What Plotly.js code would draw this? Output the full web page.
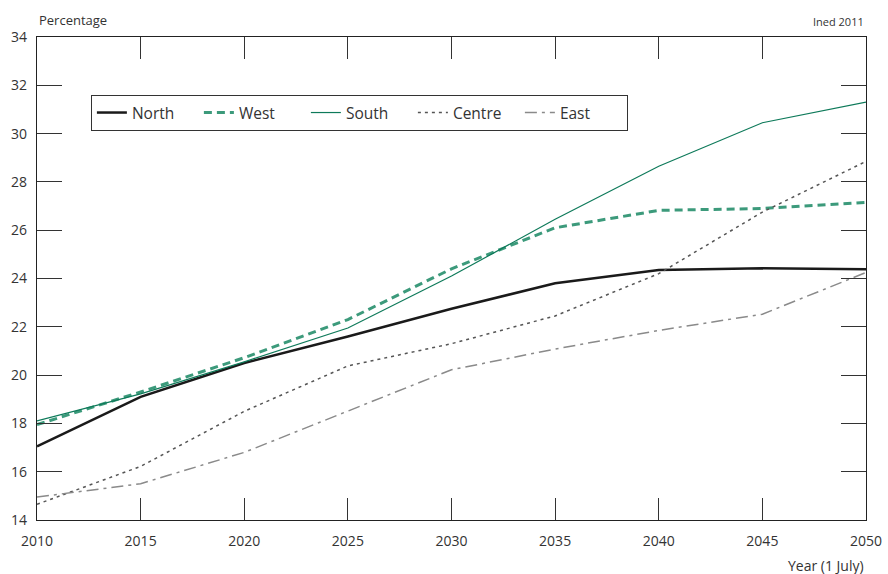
<!DOCTYPE html>
<html><head><meta charset="utf-8">
<script src="https://cdn.plot.ly/plotly-3.0.1.min.js"></script>
<style>html,body{margin:0;padding:0;background:#fff;}#chart{width:888px;height:574px;}</style>
</head><body><div id="chart"></div>
<script>
const years = [2010, 2015, 2020, 2025, 2030, 2035, 2040, 2045, 2050];
const north  = [17.05, 19.1, 20.5, 21.6, 22.75, 23.8, 24.35, 24.42, 24.38];
const west   = [17.95, 19.3, 20.72, 22.3, 24.4, 26.1, 26.82, 26.9, 27.15];
const south  = [18.1, 19.22, 20.55, 21.95, 24.1, 26.45, 28.65, 30.45, 31.3];
const centre = [14.65, 16.22, 18.5, 20.38, 21.3, 22.45, 24.2, 26.75, 28.85];
const east   = [14.95, 15.5, 16.8, 18.5, 20.22, 21.08, 21.85, 22.52, 24.25];
const yTicks = [14, 16, 18, 20, 22, 24, 26, 28, 30, 32, 34];
const xTicks = [2010, 2015, 2020, 2025, 2030, 2035, 2040, 2045, 2050];

const F = '"Open Sans", "Noto Sans", sans-serif';
const traces = [
  {x: years, y: north, name: 'North', mode: 'lines', line: {color: '#1a1a1a', width: 2.5}},
  {x: years, y: west, name: 'West', mode: 'lines', line: {color: '#3c9a7b', width: 3, dash: '8px,5px'}},
  {x: years, y: south, name: 'South', mode: 'lines', line: {color: '#0e7a5a', width: 1.2}},
  {x: years, y: centre, name: 'Centre', mode: 'lines', line: {color: '#555555', width: 1.5, dash: '3px,4px'}},
  {x: years, y: east, name: 'East', mode: 'lines', line: {color: '#8a8a8a', width: 1.5, dash: '12px,5px,3px,5px'}}
];
const layout = {
  width: 888, height: 574,
  margin: {l: 37, r: 22, t: 37, b: 54},
  paper_bgcolor: '#fff', plot_bgcolor: '#fff',
  font: {family: F, color: '#333', size: 14},
  showlegend: true,
  legend: {orientation: 'h', x: 0.065, y: 0.88, xanchor: 'left', yanchor: 'top',
    bordercolor: '#333', borderwidth: 1, bgcolor: '#fff',
    font: {family: F, size: 15.5, color: '#333'},
    entrywidth: 62, entrywidthmode: 'pixels', itemwidth: 30,
    tracegroupgap: 0},
  xaxis: {range: [2010, 2050], tickvals: xTicks, ticktext: xTicks.map(String),
    ticks: 'inside', ticklen: 22, tickwidth: 1, tickcolor: '#333',
    showline: true, linecolor: '#222', linewidth: 1.2, mirror: 'ticks',
    ticklabelstandoff: 8,
    showgrid: false, zeroline: false, tickfont: {size: 14, color: '#333'}},
  yaxis: {range: [14, 34], tickvals: yTicks, ticktext: yTicks.map(String),
    ticks: 'inside', ticklen: 25, tickwidth: 1, tickcolor: '#333',
    showline: true, linecolor: '#222', linewidth: 1.2, mirror: 'ticks',
    ticklabelstandoff: 6,
    showgrid: false, zeroline: false, tickfont: {size: 14, color: '#333'}},
  annotations: [
    {text: 'Percentage', xref: 'paper', yref: 'paper', x: 0, y: 1, yshift: 6,
     xanchor: 'left', yanchor: 'bottom', showarrow: false, font: {size: 13, color: '#333'}},
    {text: 'Ined 2011', xref: 'paper', yref: 'paper', x: 1, y: 1, yshift: 6,
     xanchor: 'right', yanchor: 'bottom', showarrow: false, font: {size: 11, color: '#333'}},
    {text: 'Year (1 July)', xref: 'paper', yref: 'paper', x: 1, y: 0, yshift: -34,
     xanchor: 'right', yanchor: 'top', showarrow: false, font: {size: 14, color: '#333'}}
  ]
};
Plotly.newPlot('chart', traces, layout, {displayModeBar: false, staticPlot: true});
</script></body></html>
